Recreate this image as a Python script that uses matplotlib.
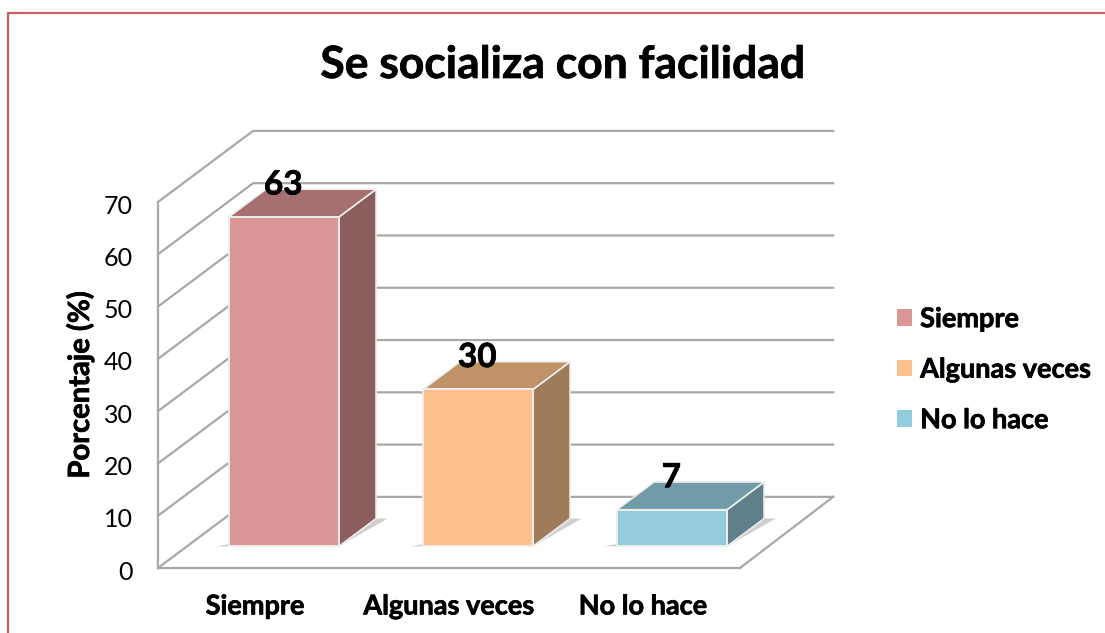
import matplotlib
matplotlib.use("Agg")
import matplotlib.pyplot as plt
import matplotlib.patheffects as pe
from matplotlib.patches import Patch, Polygon, Rectangle
from matplotlib.lines import Line2D
from matplotlib.transforms import ScaledTranslation

plt.rcParams['font.family'] = ['Lato', 'DejaVu Sans']

title = "Se socializa con facilidad"
categories = ["Siempre", "Algunas veces", "No lo hace"]
values = [63, 30, 7]
y_ticks = [0, 10, 20, 30, 40, 50, 60, 70]
front_colors = ["#D99694", "#FBC08E", "#93CDDD"]
top_colors = ["#A5706F", "#BF9268", "#709BA7"]
side_colors = ["#8B5E5D", "#A07B5A", "#5F808A"]

W, H = 1105, 633
GRID = "#A8A8A8"

# profundidad del falso 3D, en unidades de datos
DEPTH_X = 0.49
DEPTH_Y = 13.6
BAR_W = 0.567
BAR_FRONT = 0.305
BAR_BACK = 0.695
BACK_END = 2.99

# negrita algo mas gruesa, como la del original
heavy = [pe.withStroke(linewidth=0.5, foreground="black")]


def proj(x, y, d):
    return (x + d * DEPTH_X, y + d * DEPTH_Y)


fig = plt.figure(figsize=(W / 100, H / 100), dpi=100)
ax = fig.add_axes([158 / W, (H - 568) / H, 582 / W, 366 / H])
ax.set_xlim(0, 3)
ax.set_ylim(0, 70)
ax.patch.set_alpha(0)

# marco rojo
fig.add_artist(Line2D([8 / W, 8 / W, 1], [0, 1 - 13 / H, 1 - 13 / H],
                      color="#C9605D", lw=1.6, transform=fig.transFigure))

# paredes y rejilla
for t in y_ticks:
    p0 = proj(0, t, 0)
    p1 = proj(0, t, 1)
    p2 = proj(BACK_END, t, 1)
    ax.plot([p0[0], p1[0], p2[0]], [p0[1], p1[1], p2[1]], color=GRID, lw=1.6,
            clip_on=False, zorder=1, solid_joinstyle="miter")
p1 = proj(BACK_END, 0, 1)
ax.plot([3, p1[0]], [0, p1[1]], color=GRID, lw=1.6, clip_on=False, zorder=1)

# barras
for i, v in enumerate(values):
    xl = i + 0.5 - BAR_W / 2
    xr = i + 0.5 + BAR_W / 2
    # sombra en el suelo
    shadow_r = [proj(xr, 0, BAR_FRONT), proj(xr, 0, BAR_BACK), proj(xr + 0.06, 0, BAR_BACK)]
    shadow_l = [proj(xl, 0, BAR_FRONT), proj(xl - 0.065, 0, BAR_FRONT), proj(xl, 0, BAR_FRONT + 0.04)]
    ax.add_patch(Polygon(shadow_r, fc="#CFCFCF", ec="none", clip_on=False, zorder=2))
    ax.add_patch(Polygon(shadow_l, fc="#CFCFCF", ec="none", clip_on=False, zorder=2))
    side = [proj(xr, 0, BAR_FRONT), proj(xr, 0, BAR_BACK), proj(xr, v, BAR_BACK), proj(xr, v, BAR_FRONT)]
    top = [proj(xl, v, BAR_FRONT), proj(xr, v, BAR_FRONT), proj(xr, v, BAR_BACK), proj(xl, v, BAR_BACK)]
    ax.add_patch(Polygon(side, fc=side_colors[i], ec="#EDEDED", lw=1.2, clip_on=False, zorder=3))
    ax.add_patch(Polygon(top, fc=top_colors[i], ec="#EDEDED", lw=1.2, clip_on=False, zorder=3))
    fx, fy = proj(xl, 0, BAR_FRONT)
    ax.add_patch(Rectangle((fx, fy), BAR_W, v, fc=front_colors[i], ec="#EDEDED", lw=1.4,
                           clip_on=False, zorder=4))
    lx, ly = proj(i + 0.5, v, BAR_FRONT)
    ax.annotate(str(v), (lx, ly), xytext=(-0.5, 23), textcoords="offset points", ha="center", va="center",
                fontsize=24, fontweight="bold", color="black", zorder=6, annotation_clip=False,
                path_effects=heavy)

# ejes
for s in ["top", "right"]:
    ax.spines[s].set_visible(False)
for s in ["left", "bottom"]:
    ax.spines[s].set_color(GRID)
    ax.spines[s].set_linewidth(1.6)
ax.set_yticks(y_ticks)
ax.set_xticks([i + 0.5 for i in range(len(categories))])
ax.set_xticklabels(categories, fontsize=19.5, fontweight="bold", path_effects=heavy)
ax.tick_params(axis="x", length=0, pad=19)
ax.tick_params(axis="y", length=0, pad=18, labelsize=18)
# etiquetas del eje y un poco mas abajo
shift = ScaledTranslation(0, -1.5 / 72, fig.dpi_scale_trans)
for lab in ax.get_yticklabels():
    lab.set_transform(lab.get_transform() + shift)
ax.set_ylabel("Porcentaje (%)", fontsize=21, fontweight="bold", path_effects=heavy)
ax.yaxis.set_label_coords((94 - 158) / 582, (568 - 385) / 366)

fig.text(563 / W, 1 - 65 / H, title, fontsize=32, fontweight="bold", ha="center", va="center",
         path_effects=heavy)

handles = [Patch(fc=c, ec="none") for c in front_colors]
leg = fig.legend(handles, categories, loc="upper left", bbox_to_anchor=(889 / W, 1 - 299 / H),
                 frameon=False, prop={"size": 19.5, "weight": "bold"},
                 handlelength=0.55, handleheight=0.55, handletextpad=0.3, labelspacing=0.98,
                 borderpad=0.3, borderaxespad=0)
for txt in leg.get_texts():
    txt.set_path_effects(heavy)

fig.savefig("out.png", dpi=100)
